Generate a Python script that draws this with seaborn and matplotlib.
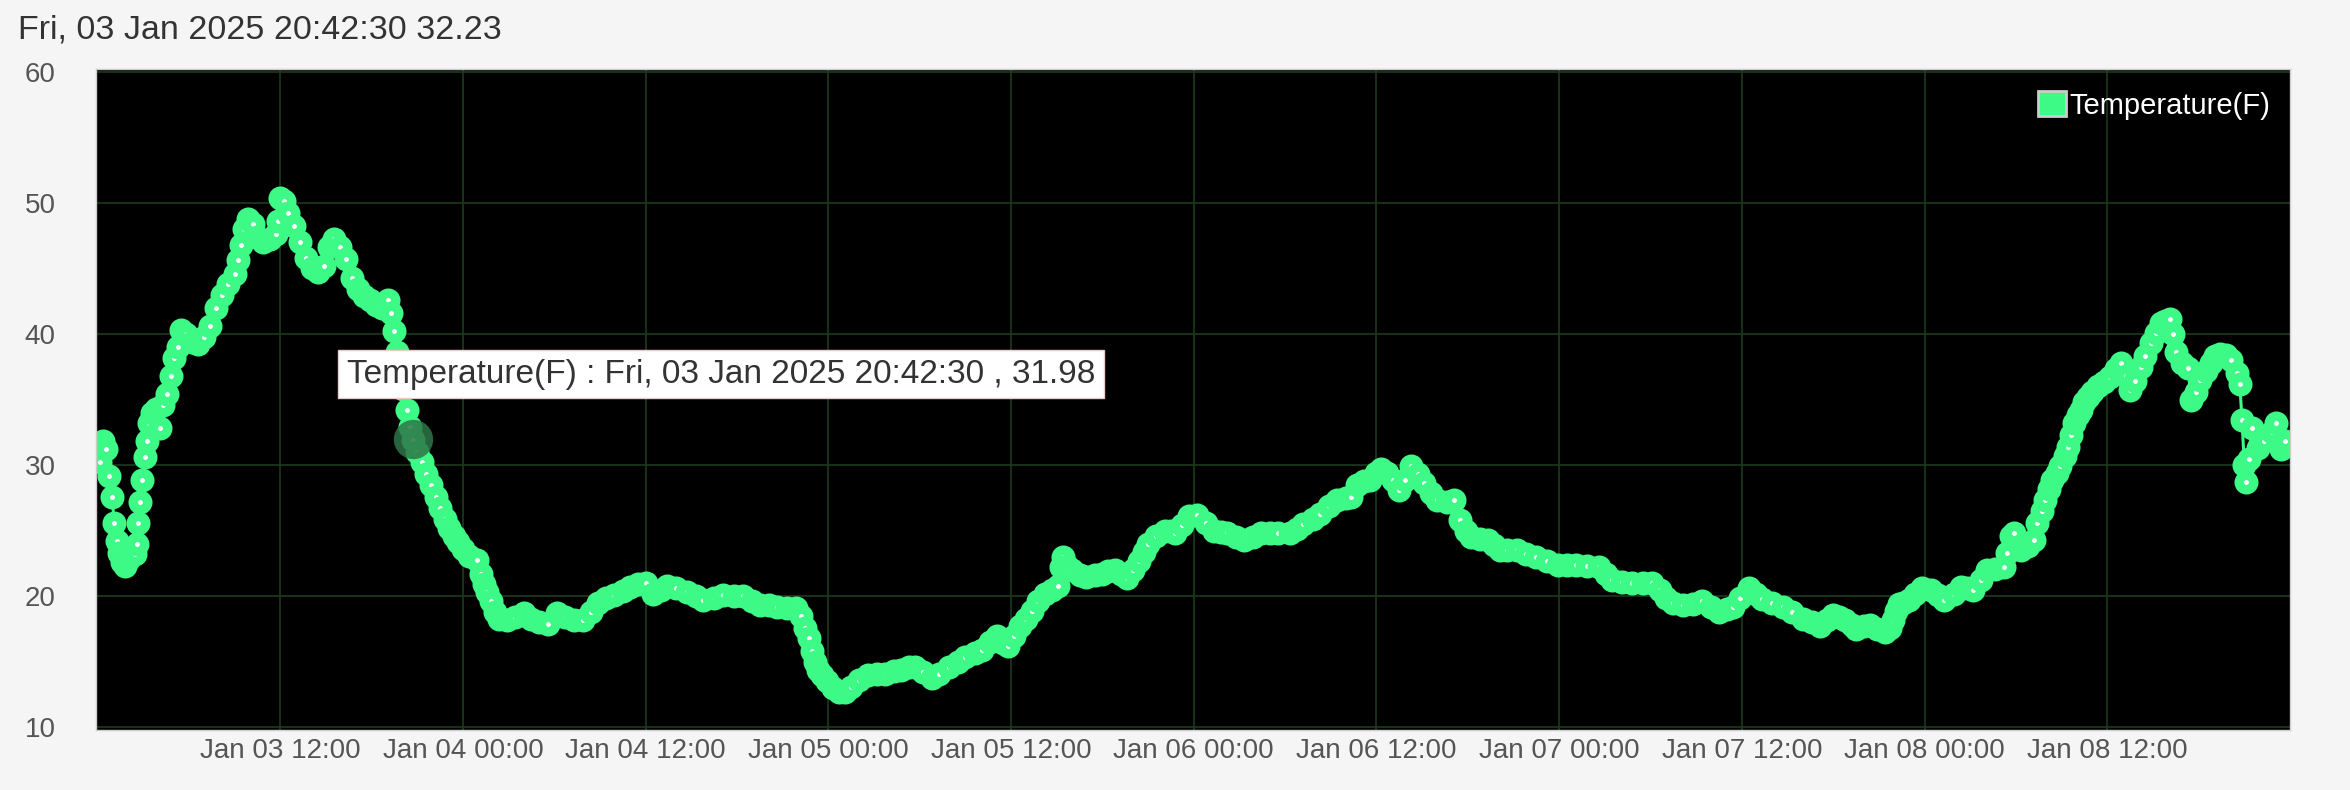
import pandas as pd
import matplotlib.pyplot as plt
import matplotlib.dates as mdates
from matplotlib.patches import Patch
import seaborn as sns

# --- data (hours after 2025-01-03 00:00, temperature in F) ---
start = pd.Timestamp("2025-01-03 00:00")

hours = [
    0.15, 0.35, 0.55, 0.75, 0.95, 1.1, 1.25, 1.4, 1.6, 1.8, 2.0, 2.2, 2.45, 2.6, 2.65,
    2.8, 2.95, 3.1, 3.25, 3.4, 3.6, 3.85, 4.1, 4.3, 4.55, 4.8, 5.05, 5.3, 5.5, 5.8,
    6.2, 6.6, 7.0, 7.4, 7.8, 8.2, 8.6, 9.0, 9.25, 9.45, 9.65, 9.9, 10.2, 10.5, 10.9,
    11.3, 11.7, 11.85, 12.0, 12.25, 12.5, 12.9, 13.3, 13.7, 14.1, 14.5, 14.9, 15.2, 15.5,
    15.9, 16.3, 16.7, 17.1, 17.5, 17.9, 18.3, 18.7, 19.05, 19.25, 19.45, 19.65, 19.85,
    20.05, 20.3, 20.55, 20.75, 21.0, 21.3, 21.6, 21.9, 22.2, 22.5, 22.8, 23.1, 23.4,
    23.7, 24.0, 24.4, 24.9, 25.2, 25.4, 25.6, 25.85, 26.1, 26.4, 26.9, 27.4, 28.0, 28.5,
    29.0, 29.6, 30.2, 30.7, 31.3, 31.9, 32.4, 32.9, 33.4, 33.9, 34.5, 35.0, 35.5, 36.0,
    36.5, 37.0, 37.4, 38.0, 38.7, 39.3, 39.8, 40.5, 41.1, 41.8, 42.4, 43.0, 43.5, 44.1,
    44.6, 45.3, 45.9, 46.2, 46.45, 46.7, 46.9, 47.1, 47.35, 47.6, 47.9, 48.3, 48.7, 49.1,
    49.5, 50.0, 50.6, 51.2, 51.7, 52.3, 52.8, 53.3, 53.7, 54.2, 54.8, 55.3, 55.9, 56.5,
    57.0, 57.6, 58.1, 58.6, 59.1, 59.5, 59.8, 60.2, 60.6, 61.0, 61.4, 61.8, 62.2, 62.7,
    63.1, 63.25, 63.4, 63.7, 64.0, 64.5, 64.9, 65.5, 66.0, 66.4, 66.8, 67.2, 67.6, 68.0,
    68.4, 68.7, 69.0, 69.5, 70.1, 70.5, 70.8, 71.2, 71.7, 72.2, 72.8, 73.3, 73.8, 74.2,
    74.8, 75.3, 75.9, 76.4, 77.0, 77.5, 78.3, 78.8, 79.2, 79.8, 80.3, 80.9, 81.4, 82.0,
    82.3, 82.7, 83.2, 83.6, 84.0, 84.3, 84.7, 85.1, 85.5, 85.9, 86.3, 86.7, 87.1, 87.6,
    88.0, 88.6, 89.1, 89.5, 89.85, 90.2, 90.8, 91.3, 91.7, 92.1, 92.6, 93.2, 93.8, 94.5,
    95.2, 95.9, 96.5, 97.1, 97.8, 98.6, 99.1, 99.5, 100.1, 100.8, 101.5, 102.1, 102.6,
    103.0, 103.5, 104.1, 104.8, 105.4, 106.0, 106.5, 107.0, 107.4, 107.9, 108.5, 108.9,
    109.3, 110.0, 110.7, 111.3, 112.0, 112.6, 113.1, 113.6, 114.0, 114.4, 114.8, 115.2,
    115.5, 116.0, 116.4, 116.9, 117.4, 117.7, 117.9, 118.1, 118.3, 118.6, 119.0, 119.4,
    119.8, 120.4, 120.9, 121.3, 121.9, 122.4, 122.8, 123.2, 123.7, 124.1, 124.6, 125.2,
    125.4, 125.7, 125.9, 126.3, 126.8, 127.2, 127.4, 127.7, 127.9, 128.2, 128.4, 128.7,
    128.9, 129.2, 129.4, 129.6, 129.8, 130.1, 130.3, 130.5, 130.7, 131.0, 131.4, 131.8,
    132.2, 132.6, 132.9, 133.2, 133.5, 133.8, 134.2, 134.5, 134.9, 135.2, 135.5, 135.8,
    136.1, 136.3, 136.5, 136.9, 137.3, 137.5, 137.8, 138.1, 138.5, 138.8, 139.1, 139.4,
    139.8, 140.1, 140.5, 140.7, 140.85, 141.0, 141.1, 141.3, 141.5, 141.9, 142.3, 142.8,
    143.1, 143.4, 143.7,
]

temps_f = [
    30.2, 31.8, 31.2, 29.2, 27.6, 25.6, 24.2, 23.3, 22.6, 22.3, 22.8, 23.6, 23.2, 24.0, 25.6,
    27.2, 28.9, 30.6, 31.8, 33.2, 34.0, 34.3, 32.8, 34.6, 35.4, 36.8, 38.2, 39.0, 40.3, 40.0,
    39.4, 39.2, 39.8, 40.6, 42.0, 43.0, 43.8, 44.6, 45.6, 46.8, 48.0, 48.8, 48.4, 47.4, 47.0,
    47.2, 47.6, 48.6, 50.4, 50.1, 49.2, 48.2, 47.0, 45.8, 45.0, 44.7, 45.2, 46.6, 47.2,
    46.6, 45.7, 44.3, 43.4, 42.9, 42.6, 42.2, 42.0, 42.6, 41.6, 40.2, 38.6, 37.2,
    35.8, 34.2, 32.9, 31.9, 31.0, 30.2, 29.3, 28.5, 27.6, 26.7, 25.9, 25.2, 24.6,
    24.1, 23.6, 23.1, 22.8, 21.7, 20.9, 20.3, 19.6, 18.8, 18.3, 18.2, 18.4, 18.7, 18.3,
    18.0, 17.9, 18.7, 18.4, 18.2, 18.2, 18.8, 19.5, 19.9, 20.1, 20.4, 20.7, 20.9, 21.0,
    20.2, 20.5, 20.8, 20.6, 20.3, 20.0, 19.7, 19.9, 20.1, 20.0, 20.0, 19.6, 19.3, 19.3,
    19.2, 19.1, 19.1, 18.5, 17.6, 16.8, 15.8, 15.0, 14.4, 14.0, 13.5, 13.0, 12.7, 12.7,
    13.1, 13.6, 14.0, 14.1, 14.1, 14.3, 14.4, 14.6, 14.6, 14.2, 13.8, 14.1, 14.6, 15.0,
    15.4, 15.7, 15.9, 16.5, 17.0, 16.4, 16.2, 17.0, 17.7, 18.3, 18.9, 19.6, 20.2, 20.5,
    20.8, 22.2, 23.0, 22.3, 22.0, 21.6, 21.5, 21.6, 21.7, 21.9, 22.0, 21.7, 21.4, 22.0,
    22.7, 23.4, 24.0, 24.6, 25.0, 25.0, 24.8, 25.4, 26.1, 26.2, 25.6, 25.0, 24.9, 24.8,
    24.5, 24.3, 24.5, 24.8, 24.8, 24.8, 24.8, 25.1, 25.5, 25.9, 26.3, 26.9, 27.3, 27.5,
    27.6, 28.5, 28.8, 28.9, 29.4, 29.7, 29.4, 28.9, 28.1, 28.9, 29.9, 29.3, 28.6, 27.9,
    27.3, 27.2, 27.3, 25.8, 25.0, 24.5, 24.4, 24.3, 23.9, 23.5, 23.5, 23.5, 23.2, 23.0,
    22.7, 22.4, 22.4, 22.4, 22.3, 22.2, 21.7, 21.2, 21.1, 21.0, 21.0, 21.0, 20.5,
    19.9, 19.5, 19.3, 19.4, 19.6, 19.2, 18.8, 19.0, 19.2, 19.9, 20.6, 20.2,
    19.8, 19.5, 19.2, 18.8, 18.3, 18.0, 17.7, 18.2, 18.6, 18.4, 18.2, 17.8,
    17.5, 17.7, 17.8, 17.5, 17.3, 17.6, 18.2, 18.9, 19.4, 19.5, 19.7, 20.2,
    20.6, 20.5, 20.1, 19.7, 20.2, 20.7, 20.6, 20.5, 21.2, 22.0, 22.1, 22.2,
    23.3, 24.6, 24.8, 23.5, 23.8, 24.3, 25.6, 26.5, 27.3, 28.2, 28.9, 29.4,
    29.9, 30.7, 31.4, 32.3, 33.2, 33.8, 34.2, 34.8, 35.2, 35.6, 36.0, 36.3,
    36.7, 37.3, 37.8, 36.8, 35.7, 36.4, 37.5, 38.3, 39.3, 40.1, 40.8, 41.0,
    41.1, 40.0, 38.6, 37.8, 37.4, 35.0, 35.6, 36.5, 37.2, 37.8, 38.3, 38.5,
    38.4, 38.0, 37.0, 36.2, 33.4, 30.0, 28.7, 30.5, 32.8, 31.3, 31.8, 32.5,
    33.2, 31.2, 31.8,
]

series_name = "Temperature(F)"
title_text = "Fri, 03 Jan 2025 20:42:30 32.23"
hover_time = pd.Timestamp("2025-01-03 20:42:30")
hover_temp = 31.98
tooltip_text = "Temperature(F) : Fri, 03 Jan 2025 20:42:30 , 31.98"
tick_times = pd.date_range("2025-01-03 12:00", "2025-01-08 12:00", freq="12h")
y_ticks = [10, 20, 30, 40, 50, 60]

df = pd.DataFrame({
    "time": start + pd.to_timedelta(hours, unit="h"),
    series_name: temps_f,
})

green = "#3dfa86"

sns.set_theme(style="dark")
plt.rcParams["font.family"] = ["Liberation Sans", "DejaVu Sans"]

fig = plt.figure(figsize=(23.5, 7.9), dpi=100, facecolor="#f5f5f5")
ax = fig.add_axes([96 / 2350, 60 / 790, 2194 / 2350, 661 / 790])
ax.set_facecolor("black")

sns.lineplot(data=df, x="time", y=series_name, ax=ax, color=green,
             linewidth=2.2, marker="o", legend=False)
# chunky chart.js style points: small white centre, thick green ring
for line in ax.lines:
    line.set_markersize(10.5)
    line.set_markeredgewidth(6.8)
    line.set_markerfacecolor("white")
    line.set_markeredgecolor(green)

# hovered point + tooltip
ax.scatter([hover_time], [hover_temp], s=800, color="#2e7547", alpha=0.85,
           zorder=5, linewidths=0)
ax.annotate(tooltip_text, xy=(hover_time, hover_temp), xytext=(-66, 65),
            textcoords="offset pixels", ha="left", va="center",
            fontsize=24, color="#333333", zorder=6,
            bbox=dict(boxstyle="square,pad=0.25", fc="white", ec="#e8cccc", lw=1))

ax.set_xlim(start - pd.Timedelta(minutes=6), start + pd.Timedelta(hours=144))
ax.set_ylim(9.8, 60.2)
ax.set_yticks(y_ticks)
ax.set_xticks(tick_times)
ax.xaxis.set_major_formatter(mdates.DateFormatter("%b %d %H:%M"))
ax.set_xlabel("")
ax.set_ylabel("")

ax.grid(True, color="#1d3a1d", linewidth=1.2)
ax.set_axisbelow(True)
ax.tick_params(axis="both", length=0, labelsize=20, labelcolor="#555555")
ax.tick_params(axis="y", pad=29)
ax.tick_params(axis="x", pad=6)
for s in ax.spines.values():
    s.set_visible(True)
    s.set_color("#cccccc")
    s.set_linewidth(1)

handles = [Patch(facecolor=green, edgecolor="#cccccc", linewidth=2, label=series_name)]
ax.legend(handles=handles, loc="upper right", bbox_to_anchor=(1 - 20 / 2194, 1 - 22 / 661),
          frameon=False, fontsize=21, labelcolor="white", handlelength=0.95,
          handleheight=0.95, handletextpad=0.12, borderpad=0, borderaxespad=0)

fig.text(18 / 2350, 1 - 30 / 790, title_text, fontsize=24.5, va="center", color="#333333")

fig.savefig("out.png", dpi=100, facecolor=fig.get_facecolor())
